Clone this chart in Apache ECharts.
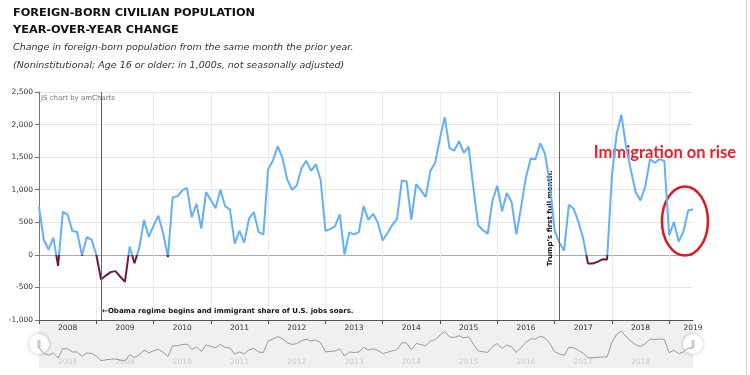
<!DOCTYPE html>
<html><head><meta charset="utf-8">
<script src="https://cdn.jsdelivr.net/npm/echarts@6/dist/echarts.min.js"></script>
<style>html,body{margin:0;padding:0;background:#fff;overflow:hidden}#c{width:750px;height:375px}</style>
</head><body><div id="c"></div>
<script>
// ---- data (year-over-year change, thousands) ----
const years = [2008, 2009, 2010, 2011, 2012, 2013, 2014, 2015, 2016, 2017, 2018, 2019];
const change2008 = [740, 232, 82, 262, -170, 660, 617, 365, 350, -12, 270, 235];
const change2009 = [5, -378, -318, -265, -250, -332, -416, 125, -130, 107, 533, 278];
const change2010 = [449, 601, 336, -34, 884, 898, 988, 1028, 579, 785, 403, 964];
const change2011 = [842, 717, 1000, 745, 699, 173, 367, 189, 556, 658, 352, 311];
const change2012 = [1311, 1448, 1668, 1489, 1158, 1000, 1066, 1334, 1443, 1290, 1392, 1148];
const change2013 = [367, 395, 436, 622, 3, 345, 314, 350, 750, 538, 630, 488];
const change2014 = [222, 335, 457, 553, 1140, 1130, 539, 1084, 995, 885, 1293, 1415];
const change2015 = [1790, 2114, 1637, 1601, 1744, 1566, 1663, 1030, 454, 377, 326, 836];
const change2016 = [1061, 668, 949, 811, 316, 734, 1193, 1474, 1469, 1714, 1550, 1100];
const change2017 = [376, 186, 66, 770, 709, 504, 250, -133, -133, -107, -68, -72];
const change2018 = [1200, 1850, 2152, 1650, 1300, 962, 834, 1050, 1470, 1410, 1470, 1438];
const change2019 = [298, 503, 205, 360, 680, 700];
const yTickMin = -1000, yTickMax = 2500, yTickStep = 500;
const guideMonths = ['2009-02', '2017-02'];
const guideTexts = ['\u2190Obama regime begins and immigrant share of U.S. jobs soars.', 'Trump\u2019s first full month.'];

const values = [].concat(change2008, change2009, change2010, change2011, change2012, change2013,
  change2014, change2015, change2016, change2017, change2018, change2019);
const months = [];
years.forEach(y => { for (let m = 1; m <= 12; m++) months.push(y + '-' + String(m).padStart(2, '0')); });
months.length = values.length;

const FONT = '"DejaVu Sans", Verdana, sans-serif';
const POS_COLOR = '#62b0fb', NEG_COLOR = '#6d1b44';
const chart = echarts.init(document.getElementById('c'), null, {renderer: 'canvas'});
const lastIdx = months.length - 1;

const option = {
  animation: false,
  backgroundColor: '#fff',
  title: [
    {text: 'FOREIGN-BORN CIVILIAN POPULATION', left: 8, top: 3, textStyle: {fontFamily: FONT, fontWeight: 'bold', fontSize: 11.3, color: '#111'}},
    {text: 'YEAR-OVER-YEAR CHANGE', left: 8, top: 20, textStyle: {fontFamily: FONT, fontWeight: 'bold', fontSize: 11.3, color: '#111'}},
    {text: 'Change in foreign-born population from the same month the prior year.', left: 8, top: 38, textStyle: {fontFamily: FONT, fontStyle: 'italic', fontWeight: 'normal', fontSize: 9.5, color: '#333'}},
    {text: '(Noninstitutional; Age 16 or older; in 1,000s, not seasonally adjusted)', left: 8, top: 56, textStyle: {fontFamily: FONT, fontStyle: 'italic', fontWeight: 'normal', fontSize: 9.5, color: '#333'}}
  ],
  grid: [
    {left: 39, right: 57, top: 92, bottom: 55},
    {left: 39, right: 57, top: 331, height: 30}
  ],
  xAxis: [
    {type: 'category', gridIndex: 0, data: months, boundaryGap: false,
     axisLine: {onZero: false, lineStyle: {color: '#555'}},
     axisTick: {interval: (i) => i % 12 === 0, length: 4, lineStyle: {color: '#555'}},
     splitLine: {show: true, interval: (i) => i % 12 === 0, lineStyle: {color: '#ebebeb'}},
     axisLabel: {interval: (i) => i % 12 === 6 || i === lastIdx, formatter: (v) => v.slice(0, 4),
       fontFamily: FONT, fontSize: 7.5, color: '#333', margin: 4}},
    {type: 'category', gridIndex: 1, data: months, boundaryGap: false,
     axisLine: {show: false}, axisTick: {show: false}, splitLine: {show: false},
     axisLabel: {interval: (i) => i % 12 === 6, formatter: (v) => v.slice(0, 4),
       fontFamily: FONT, fontSize: 7.5, color: '#cdcdcd', margin: -3}}
  ],
  yAxis: [
    {type: 'value', gridIndex: 0, min: yTickMin, max: yTickMax, interval: yTickStep,
     axisLine: {show: true, lineStyle: {color: '#777'}},
     axisTick: {show: true, length: 4, lineStyle: {color: '#777'}},
     splitLine: {lineStyle: {color: ['#e6e6e6', '#e6e6e6', '#aaaaaa', '#e6e6e6', '#e6e6e6', '#e6e6e6', '#e6e6e6', '#e6e6e6']}},
     axisLabel: {formatter: (v) => v.toLocaleString('en-US'), fontFamily: FONT, fontSize: 7.5, color: '#333', margin: 6}},
    {type: 'value', gridIndex: 1, min: 'dataMin', max: 'dataMax', show: false}
  ],
  series: [
    {type: 'line', xAxisIndex: 0, yAxisIndex: 0, data: values, symbol: 'none', z: 3,
     lineStyle: {width: 2, color: POS_COLOR},
     markLine: {symbol: 'none', silent: true, label: {show: false},
       lineStyle: {color: '#666', width: 1, type: 'solid'},
       data: guideMonths.map(m => ({xAxis: m}))}},
    {type: 'line', xAxisIndex: 1, yAxisIndex: 1, data: values, symbol: 'none', silent: true,
     lineStyle: {color: '#9a9a9a', width: 1}}
  ]
};
chart.setOption(option);

// annotations and negative colouring anchored to data positions
const px = (m, v) => chart.convertToPixel({xAxisIndex: 0, yAxisIndex: 0}, [m, v]);
const gObama = px(guideMonths[0], -870);
const gTrump = px(guideMonths[1], 560);
const gImm = px('2017-09', 1575);
const gCirc = px('2019-04', 520);
const plotTL = px(months[0], yTickMax);
const plotBR = px(months[lastIdx], yTickMin);
const zeroY = px(months[0], 0)[1];
const f = (zeroY - plotTL[1]) / (plotBR[1] - plotTL[1]);

chart.setOption({
  series: [{
    lineStyle: {width: 2, color: new echarts.graphic.LinearGradient(0, plotTL[1], 0, plotBR[1], [
      {offset: 0, color: POS_COLOR}, {offset: f, color: POS_COLOR},
      {offset: f, color: NEG_COLOR}, {offset: 1, color: NEG_COLOR}], true)}
  }],
  graphic: [
    {type: 'rect', z: -10, silent: true, shape: {x: plotTL[0], y: plotBR[1], width: plotBR[0] - plotTL[0], height: 48},
     style: {fill: '#f0f0f0'}},
    {type: 'text', silent: true, x: plotTL[0] + 2, y: plotTL[1] + 6,
     style: {text: 'JS chart by amCharts', font: '7px ' + FONT, fill: '#777', verticalAlign: 'middle'}},
    {type: 'text', silent: true, x: gObama[0] + 1, y: gObama[1],
     style: {text: guideTexts[0], font: 'bold 7px ' + FONT, fill: '#111', verticalAlign: 'middle', align: 'left'}},
    {type: 'text', silent: true, x: gTrump[0] - 9, y: gTrump[1], rotation: Math.PI / 2,
     style: {text: guideTexts[1], font: 'bold 7px ' + FONT, fill: '#111', verticalAlign: 'middle', align: 'center'}},
    {type: 'text', silent: true, x: gImm[0] + 1, y: gImm[1],
     style: {text: 'Immigration on rise', font: 'bold 16.5px Lato, "Liberation Sans", sans-serif', fill: '#e8202a', verticalAlign: 'middle', align: 'left'}},
    {type: 'ellipse', silent: true, shape: {cx: gCirc[0] + 1.5, cy: gCirc[1], rx: 23, ry: 34.5},
     style: {fill: 'none', stroke: '#e3141c', lineWidth: 2.5}},
    {type: 'circle', silent: true, shape: {cx: plotTL[0], cy: plotBR[1] + 24, r: 10},
     style: {fill: '#fff', shadowBlur: 4, shadowColor: 'rgba(0,0,0,0.25)'}},
    {type: 'rect', silent: true, shape: {x: plotTL[0] - 1.5, y: plotBR[1] + 20, width: 3, height: 8, r: 1}, style: {fill: '#c8c8c8'}},
    {type: 'circle', silent: true, shape: {cx: plotBR[0], cy: plotBR[1] + 24, r: 10},
     style: {fill: '#fff', shadowBlur: 4, shadowColor: 'rgba(0,0,0,0.25)'}},
    {type: 'rect', silent: true, shape: {x: plotBR[0] - 1.5, y: plotBR[1] + 20, width: 3, height: 8, r: 1}, style: {fill: '#c8c8c8'}},
    {type: 'line', silent: true, shape: {x1: 746.5, y1: 0, x2: 746.5, y2: 375}, style: {stroke: '#d4d4d4', lineWidth: 1}}
  ]
});
</script>
</body></html>
